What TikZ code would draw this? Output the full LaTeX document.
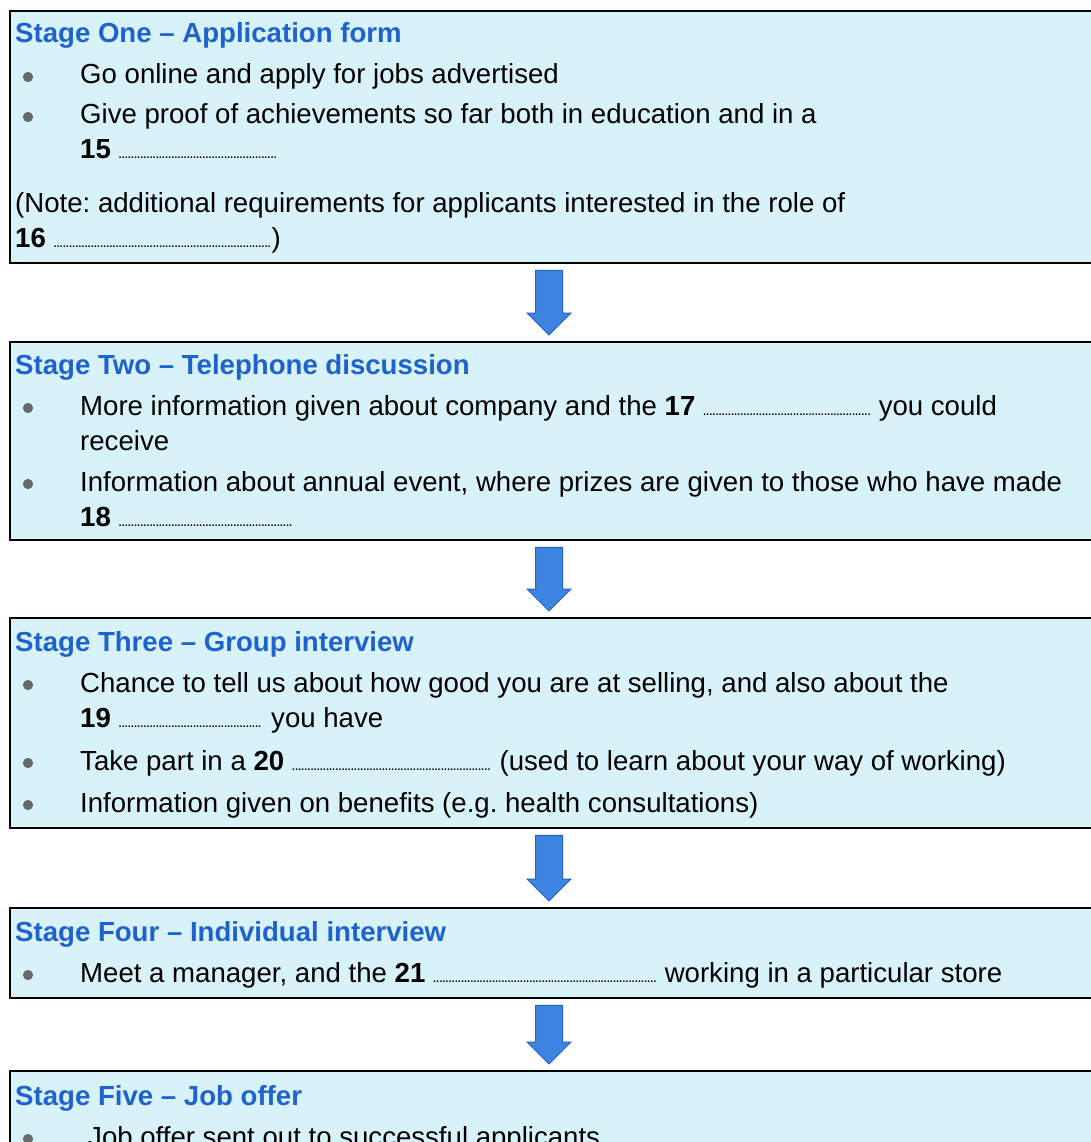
\documentclass[tikz,border=0pt]{standalone}
\usepackage{fontspec}
\setmainfont{Liberation Sans}
\usetikzlibrary{calc}
\frenchspacing
\definecolor{boxfill}{RGB}{216,242,250}
\definecolor{titleblue}{RGB}{30,98,205}
\definecolor{arrowfill}{RGB}{60,132,224}
\definecolor{arrowedge}{RGB}{36,98,196}
\definecolor{bulletgray}{RGB}{105,105,105}
\newcommand\blankdots[1]{\hbox to #1pt{\fontsize{15}{15}\selectfont\leaders\hbox to 3.1pt{\hss.\hss}\hfill}}
\tikzset{
  stagebox/.style={draw=black, line width=2.4pt, fill=boxfill, anchor=north west,
    minimum width=1130pt, inner sep=0pt},
  stitle/.style={anchor=base west, text=titleblue, inner sep=0pt,
    font=\bfseries\fontsize{27.6}{35}\selectfont},
  btext/.style={anchor=base west, inner sep=0pt, font=\fontsize{27.6}{35}\selectfont},
  bul/.style={circle, fill=bulletgray, draw=gray!80!black, line width=0.6pt,
    minimum size=9.5pt, inner sep=0pt},
  flow/.style={fill=arrowfill, draw=arrowedge, line width=1pt, line join=miter}
}
\begin{document}
\begin{tikzpicture}[x=1pt,y=-1pt]
\useasboundingbox (0,0) rectangle (1091,1142);
\clip (0,0) rectangle (1091,1142);
\fill[white] (0,0) rectangle (1091,1142);
\coordinate (ax) at (549,0);

% boxes
\node[stagebox, minimum height=252pt] (s1) at (9,10) {};
\node[stagebox, minimum height=198pt] (s2) at (9,341) {};
\node[stagebox, minimum height=210pt] (s3) at (9,617) {};
\node[stagebox, minimum height=90pt]  (s4) at (9,907) {};
\node[stagebox, minimum height=140pt] (s5) at (9,1070) {};

% arrows between stages
\foreach \a/\b in {s1/s2,s2/s3,s3/s4,s4/s5}{
  \filldraw[flow] ($(\a.south -| ax)+(-13.5,6)$) -- ($(\a.south -| ax)+(13.5,6)$)
    -- ($(\b.north -| ax)+(13.5,-28)$) -- ($(\b.north -| ax)+(22,-28)$)
    -- ($(\b.north -| ax)+(0,-6)$) -- ($(\b.north -| ax)+(-22,-28)$)
    -- ($(\b.north -| ax)+(-13.5,-28)$) -- cycle;
}

% Stage One
\node[stitle] (t1) at (15,43) {Stage One – Application form};
\node[bul] (p11) at (28,77) {};
\node[btext] (l11) at (80,84) {Go online and apply for jobs advertised};
\node[bul] (p12) at (28,117) {};
\node[btext] (l12) at (80,124) {Give proof of achievements so far both in education and in a};
\node[btext] (l13) at (80,159) {\textbf{15} \blankdots{160}};
\node[btext] (l14) at (15,212) {(Note: additional requirements for applicants interested in the role of};
\node[btext] (l15) at (15,247) {\textbf{16} \blankdots{218})};

% Stage Two
\node[stitle] (t2) at (15,374) {Stage Two – Telephone discussion};
\node[bul] (p21) at (28,408) {};
\node[btext] (l21) at (80,415) {More information given about company and the \textbf{17} \blankdots{168} you could};
\node[btext] (l22) at (80,450) {receive};
\node[bul] (p22) at (28,484) {};
\node[btext] (l23) at (80,491) {Information about annual event, where prizes are given to those who have made};
\node[btext] (l24) at (80,526) {\textbf{18} \blankdots{174}};

% Stage Three
\node[stitle] (t3) at (15,651) {Stage Three – Group interview};
\node[bul] (p31) at (28,685) {};
\node[btext] (l31) at (80,692) {Chance to tell us about how good you are at selling, and also about the};
\node[btext] (l32) at (80,727) {\textbf{19} \blankdots{145} you have};
\node[bul] (p32) at (28,763) {};
\node[btext] (l33) at (80,770) {Take part in a \textbf{20} \blankdots{200} (used to learn about your way of working)};
\node[bul] (p33) at (28,805) {};
\node[btext] (l34) at (80,812) {Information given on benefits (e.g. health consultations)};

% Stage Four
\node[stitle] (t4) at (15,941) {Stage Four – Individual interview};
\node[bul] (p41) at (28,975) {};
\node[btext] (l41) at (80,982) {Meet a manager, and the \textbf{21} \blankdots{224} working in a particular store};

% Stage Five
\node[stitle] (t5) at (15,1105) {Stage Five – Job offer};
\node[bul] (p51) at (28,1139) {};
\node[btext] (l51) at (88,1146) {Job offer sent out to successful applicants};
\end{tikzpicture}
\end{document}
